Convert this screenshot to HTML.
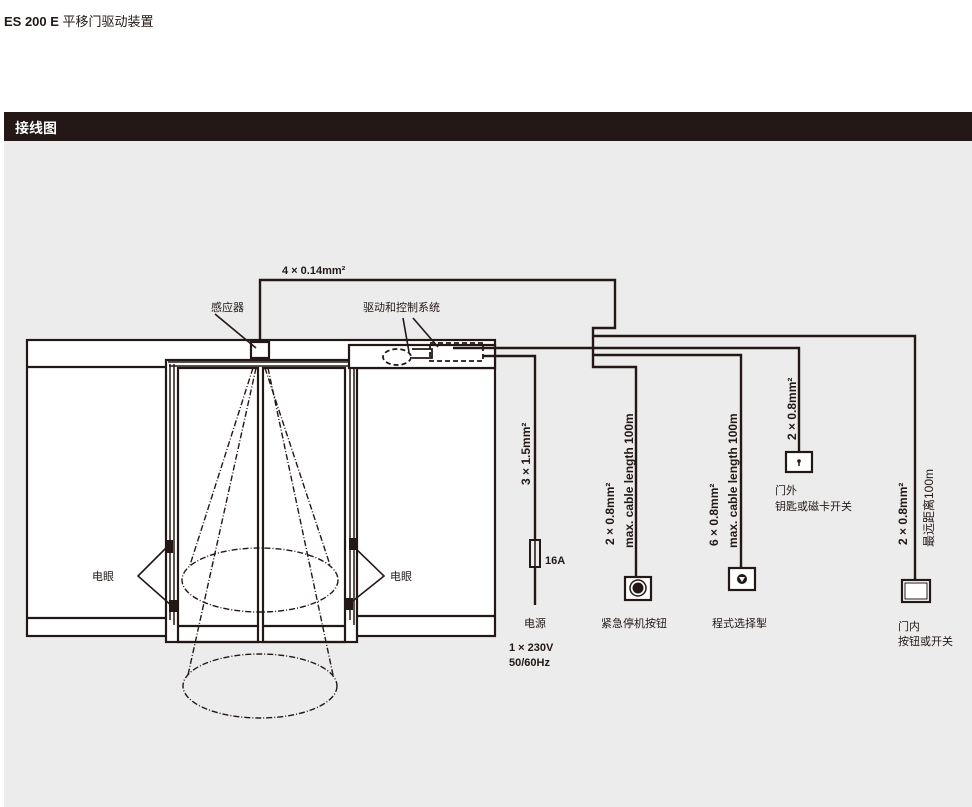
<!DOCTYPE html>
<html><head><meta charset="utf-8"><style>
body{margin:0;width:972px;height:807px;background:#fff;overflow:hidden;font-family:"Liberation Sans","Noto Sans CJK SC",sans-serif}
svg{display:block}
</style></head><body>
<svg width="972" height="807" viewBox="0 0 972 807" xmlns="http://www.w3.org/2000/svg" font-family="Liberation Sans, Noto Sans CJK SC, sans-serif">
<text x="4" y="26" font-size="13" font-weight="bold" fill="#231815">ES 200 E <tspan font-weight="normal">平移门驱动装置</tspan></text>
<rect x="4" y="112" width="968" height="29" fill="#231815"/>
<text x="15" y="133" font-size="14" font-weight="bold" fill="#fff">接线图</text>
<rect x="4" y="141" width="968" height="666" fill="#ececec"/>
<g stroke="#231815" fill="none" stroke-width="2.2">
<rect x="27" y="340" width="468" height="296" fill="#fff"/>
<line x1="27" y1="367" x2="166" y2="367"/>
<line x1="357" y1="368" x2="495" y2="368"/>
<line x1="27" y1="618" x2="166" y2="618"/>
<line x1="357" y1="616" x2="495" y2="616"/>
<rect x="166" y="360" width="191" height="282" fill="#fff"/>
<path d="M168 362H355M170 364V620M174 364V625M350 364V620M354 364V625" stroke-width="1.5"/>
<line x1="169" y1="366" x2="355" y2="366" stroke-width="1.5"/>
<rect x="178" y="368" width="80" height="274"/>
<rect x="263" y="368" width="82" height="274"/>
<line x1="178" y1="626" x2="258" y2="626"/>
<line x1="263" y1="626" x2="345" y2="626"/>
<rect x="349" y="345" width="146" height="23" fill="#fff"/>
<rect x="251" y="342" width="18" height="16" fill="#fff"/>
</g>
<g stroke="#231815" fill="none" stroke-width="2.4">
<polyline points="260,342 260,280 615,280 615,328 593,328 593,367 636,367 636,577"/>
<polyline points="593,336 915,336 915,580"/>
<polyline points="453,348 799,348 799,452"/>
<polyline points="593,355 741,355 741,568"/>
<polyline points="483,356 535,356 535,605"/>
<rect x="530" y="540" width="10" height="27" fill="#ececec" stroke-width="2"/>
<line x1="535" y1="540" x2="535" y2="567" stroke-width="1.5"/>
<path d="M412 349H432V358H412" stroke-width="1.8"/>
</g>
<g stroke="#231815" fill="none" stroke-width="1.8" stroke-dasharray="5,3">
<ellipse cx="397" cy="357" rx="14" ry="8"/>
<rect x="430" y="343" width="53" height="18"/>
</g>
<g stroke="#231815" fill="none" stroke-width="1.4" stroke-dasharray="6,2,1,2">
<ellipse cx="260" cy="580" rx="78" ry="32"/>
<ellipse cx="260" cy="686" rx="77" ry="32"/>
<line x1="253" y1="368" x2="190" y2="565"/>
<line x1="256" y1="368" x2="188" y2="675"/>
<line x1="265" y1="368" x2="330" y2="565"/>
<line x1="268" y1="368" x2="333" y2="675"/>
</g>
<g stroke="#231815" stroke-width="1.6">
<line x1="215" y1="314" x2="256" y2="348"/>
<line x1="403" y1="318" x2="409" y2="352"/>
<line x1="413" y1="318" x2="438" y2="347"/>
<polyline points="168,546 138,576 172,606" fill="none"/>
<polyline points="353,546 384,576 349,604" fill="none"/>
</g>
<g fill="#231815">
<rect x="166" y="540" width="7" height="13"/><rect x="169" y="600" width="8" height="12"/>
<rect x="349" y="538" width="8" height="12"/><rect x="345" y="598" width="8" height="12"/>
</g>
<g stroke="#231815" stroke-width="2.2" fill="#fff">
<rect x="625" y="577" width="26" height="23"/>
<rect x="729" y="568" width="26" height="22"/>
<rect x="786" y="452" width="26" height="20"/>
<rect x="902" y="580" width="28" height="22"/>
</g>
<circle cx="638" cy="588" r="8" fill="none" stroke="#231815" stroke-width="1.5"/>
<circle cx="638" cy="588" r="5.5" fill="#231815"/>
<circle cx="742" cy="579" r="5" fill="#231815"/>
<path d="M739 577L745 577L742 582Z" fill="#fff"/>
<circle cx="799" cy="461" r="1.8" fill="#231815"/><line x1="799" y1="461" x2="799" y2="466" stroke="#231815" stroke-width="1.5"/>
<rect x="905" y="583" width="22" height="16" fill="none" stroke="#231815" stroke-width="1"/>
<g font-size="11" fill="#231815">
<text x="282" y="274" font-weight="bold">4 × 0.14mm²</text>
<text x="211" y="311">感应器</text>
<text x="363" y="311">驱动和控制系统</text>
<text x="92" y="580">电眼</text>
<text x="390" y="580">电眼</text>
<text x="545" y="564" font-weight="bold">16A</text>
<text x="524" y="627">电源</text>
<text x="509" y="651" font-weight="bold">1 × 230V</text>
<text x="509" y="666" font-weight="bold">50/60Hz</text>
<text x="601" y="627">紧急停机按钮</text>
<text x="712" y="627">程式选择掣</text>
<text x="775" y="494">门外</text>
<text x="775" y="510">钥匙或磁卡开关</text>
<text x="898" y="630">门内</text>
<text x="898" y="645">按钮或开关</text>
</g>
<g font-size="12" fill="#231815" font-weight="bold">
<text transform="translate(530,485) rotate(-90)">3 × 1.5mm²</text>
<text transform="translate(614,545) rotate(-90)">2 × 0.8mm²</text>
<text transform="translate(633,548) rotate(-90)">max. cable length 100m</text>
<text transform="translate(718,546) rotate(-90)">6 × 0.8mm²</text>
<text transform="translate(737,548) rotate(-90)">max. cable length 100m</text>
<text transform="translate(796,440) rotate(-90)">2 × 0.8mm²</text>
<text transform="translate(907,545) rotate(-90)">2 × 0.8mm²</text>
<text transform="translate(933,547) rotate(-90)" font-weight="normal">最远距离100m</text>
</g>
</svg>
</body></html>
